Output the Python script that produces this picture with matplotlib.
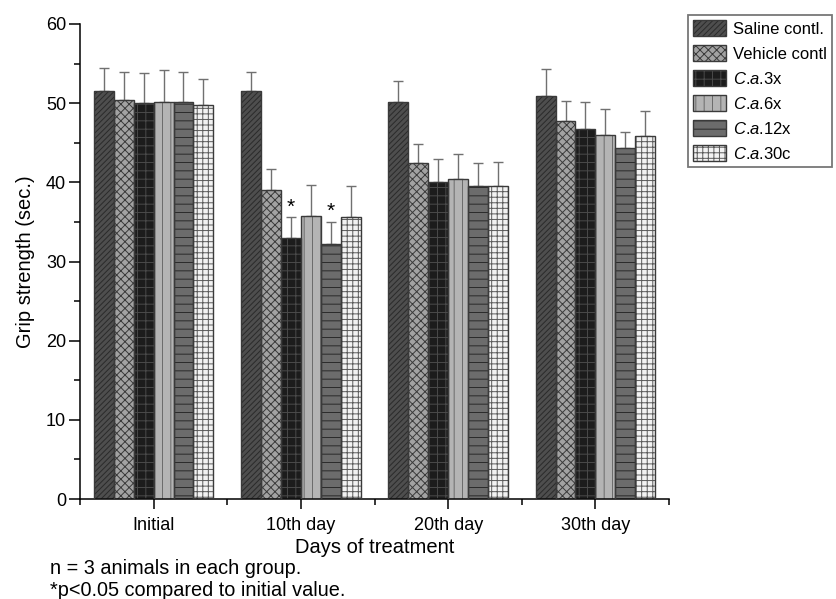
import matplotlib
matplotlib.use("Agg")
import matplotlib.pyplot as plt
import numpy as np
from matplotlib.patches import Patch
from matplotlib.ticker import MultipleLocator

plt.rcParams['font.family'] = ['Liberation Sans', 'DejaVu Sans']
plt.rcParams['mathtext.fontset'] = 'custom'
plt.rcParams['mathtext.rm'] = 'Liberation Sans'
plt.rcParams['mathtext.it'] = 'Liberation Sans:italic'
plt.rcParams['hatch.linewidth'] = 0.7

# data
days = ['Initial', '10th day', '20th day', '30th day']
groups = ['Saline contl.', 'Vehicle contl', r'$\mathit{C}$.$\mathit{a}$.3x', r'$\mathit{C}$.$\mathit{a}$.6x',
          r'$\mathit{C}$.$\mathit{a}$.12x', r'$\mathit{C}$.$\mathit{a}$.30c']
saline = [51.6, 51.6, 50.2, 50.9]
vehicle = [50.4, 39.0, 42.5, 47.8]
ca3x = [50.0, 33.0, 40.0, 46.8]
ca6x = [50.2, 35.7, 40.4, 46.0]
ca12x = [50.1, 32.2, 39.6, 44.3]
ca30c = [49.8, 35.6, 39.6, 45.8]
saline_err = [2.9, 2.4, 2.6, 3.4]
vehicle_err = [3.5, 2.7, 2.4, 2.5]
ca3x_err = [3.8, 2.6, 3.0, 3.3]
ca6x_err = [4.0, 4.0, 3.2, 3.2]
ca12x_err = [3.9, 2.8, 2.9, 2.1]
ca30c_err = [3.2, 3.9, 3.0, 3.2]
# significant bars: (day index, group index)
stars = [(1, 2), (1, 4)]

values = [saline, vehicle, ca3x, ca6x, ca12x, ca30c]
errors = [saline_err, vehicle_err, ca3x_err, ca6x_err, ca12x_err, ca30c_err]

# face colour, hatch, hatch colour
styles = [('#4e4e4e', '//////', '#2a2a2a'),
          ('#a2a2a2', 'xxxx', '#3a3a3a'),
          ('#1c1c1c', '++', '#4a4a4a'),
          ('#b4b4b4', '||', '#6a6a6a'),
          ('#6c6c6c', '--', '#2a2a2a'),
          ('#f2f2f2', '+++', '#5a5a5a')]

fig = plt.figure(figsize=(8.36, 5.99), dpi=100)
ax = fig.add_axes([80 / 836, 1 - 499 / 599, (669 - 80) / 836, (499 - 24) / 599])

x = np.arange(1, len(days) + 1)
w = 0.135
handles = []
for i, (vals, errs) in enumerate(zip(values, errors)):
    fc, hatch, hc = styles[i]
    pos = x + (i - 2.5) * w
    ax.bar(pos, vals, w, color=fc, edgecolor=hc, hatch=hatch, linewidth=0, zorder=2)
    ax.bar(pos, vals, w, fill=False, edgecolor='#3a3a3a', linewidth=1.0, zorder=3)
    ax.errorbar(pos, vals, yerr=[np.zeros(len(vals)), errs], fmt='none',
                ecolor='#707070', elinewidth=1.0, capsize=3.5, capthick=1.0, zorder=1)
    h_fill = Patch(facecolor=fc, edgecolor=hc, hatch=hatch, linewidth=0)
    h_edge = Patch(fill=False, edgecolor='#3a3a3a', linewidth=1.0)
    handles.append((h_fill, h_edge))

for d, g in stars:
    top = values[g][d] + errors[g][d]
    ax.text(x[d] + (g - 2.5) * w, top + 1.3, '*', ha='center', va='center', fontsize=15)

ax.set_xlim(0.5, 4.5)
ax.set_ylim(0, 60)
ax.set_xticks(x)
ax.set_xticklabels(days)
ax.xaxis.set_minor_locator(plt.FixedLocator([0.5, 1.5, 2.5, 3.5, 4.5]))
ax.yaxis.set_major_locator(MultipleLocator(10))
ax.yaxis.set_minor_locator(MultipleLocator(5))
ax.tick_params(axis='both', which='major', labelsize=13, width=1.1, direction='out')
ax.tick_params(axis='x', which='major', length=7, pad=6)
ax.tick_params(axis='y', which='major', length=8, pad=2)
ax.tick_params(axis='both', which='minor', length=4, width=1.1, direction='out')
for s in ['top', 'right']:
    ax.spines[s].set_visible(False)
for s in ['left', 'bottom']:
    ax.spines[s].set_linewidth(1.1)
ax.set_xlabel('Days of treatment', fontsize=14.5, labelpad=3)
ax.set_ylabel('Grip strength (sec.)', fontsize=14.5, labelpad=8)

leg = fig.legend(handles, groups, loc='upper left', bbox_to_anchor=(688 / 836, 1 - 15 / 599),
                 fontsize=12, frameon=True, fancybox=False, handlelength=2.0, handleheight=1.1,
                 handletextpad=0.4, labelspacing=0.5, borderpad=0.3, borderaxespad=0)
leg.get_frame().set_edgecolor('#555555')
leg.get_frame().set_linewidth(1.3)

fig.text(50 / 836, 1 - 568 / 599, 'n = 3 animals in each group.', fontsize=14.3, va='center')
fig.text(50 / 836, 1 - 590 / 599, '*p<0.05 compared to initial value.', fontsize=14.3, va='center')

fig.savefig('out.png', dpi=100)
